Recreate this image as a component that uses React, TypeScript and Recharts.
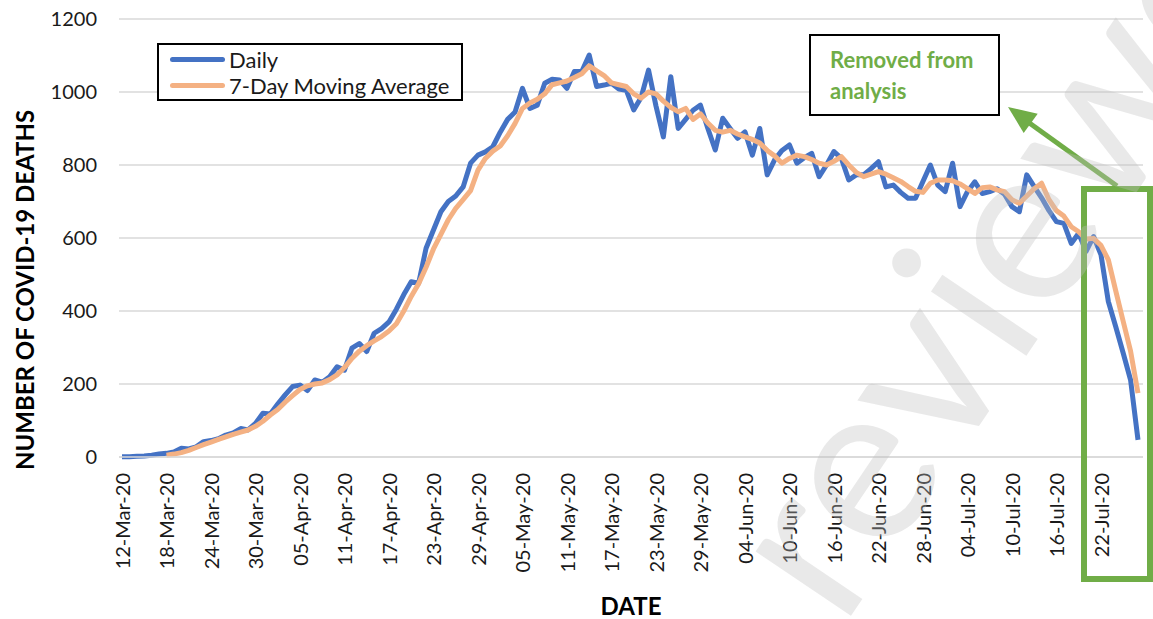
import { CartesianGrid, Legend, Line, LineChart, XAxis, YAxis } from 'recharts'

// month, first day, last day shown
const MONTHS: [string, number, number][] = [
  ['Mar', 12, 31],
  ['Apr', 1, 30],
  ['May', 1, 31],
  ['Jun', 1, 30],
  ['Jul', 1, 27],
]

const dates: string[] = []
MONTHS.forEach(([m, from, to]) => {
  for (let d = from; d <= to; d++) dates.push(`${String(d).padStart(2, '0')}-${m}-20`)
})

const daily = [
  1, 1, 2, 3, 5, 8, 10, 14, 24, 22,
  28, 42, 45, 50, 60, 66, 78, 74, 92, 120,
  118, 145, 170, 193, 197, 182, 211, 205, 220, 247,
  238, 298, 311, 289, 339, 352, 370, 405, 445, 480,
  476, 572, 622, 672, 700, 715, 740, 805, 827, 836,
  850, 890, 925, 945, 1010, 955, 964, 1024, 1035, 1033,
  1010, 1056, 1056, 1101, 1015, 1019, 1024, 1008, 1005, 951,
  985, 1060, 962, 877, 1042, 900, 925, 950, 964, 900,
  841, 928, 900, 873, 891, 827, 900, 773, 814, 840,
  855, 805, 820, 832, 768, 800, 837, 818, 759, 773,
  773, 790, 809, 740, 745, 725, 709, 709, 755, 800,
  745, 727, 805, 686, 727, 754, 722, 727, 735, 720,
  686, 672, 773, 741, 710, 675, 645, 640, 585, 613,
  563, 604, 555, 426, 357, 285, 211, 47,
]

const movingAvg = [
  null, null, null, null, null, null, 5, 8, 12, 18,
  26, 34, 41, 48, 55, 62, 68, 74, 84, 98,
  115, 130, 150, 168, 185, 195, 200, 203, 212, 225,
  245, 270, 290, 305, 318, 330, 345, 365, 400, 440,
  475, 520, 570, 610, 650, 681, 705, 730, 786, 818,
  838, 852, 880, 914, 955, 970, 980, 995, 1020, 1025,
  1030, 1040, 1050, 1072, 1058, 1045, 1025, 1020, 1015, 995,
  983, 1000, 995, 975, 958, 946, 955, 925, 940, 915,
  895, 890, 895, 885, 877, 870, 860, 840, 825, 805,
  818, 827, 823, 815, 805, 800, 810, 823, 800, 780,
  768, 775, 782, 775, 765, 755, 741, 728, 725, 750,
  759, 759, 757, 748, 735, 722, 738, 740, 732, 727,
  705, 695, 715, 735, 750, 705, 675, 660, 631, 617,
  597, 599, 580, 540, 455, 372, 290, 175,
]

const yTicks = [0, 200, 400, 600, 800, 1000, 1200]

const data = dates.map((date, i) => ({ date, daily: daily[i], avg: movingAvg[i] }))

const BLUE = '#4472C4'
const ORANGE = '#F4B183'
const GREEN = '#70AD47'
const FONT = 'Lato, "Liberation Sans", sans-serif'

function DateTick(props: any) {
  const { x, y, payload } = props
  return (
    <text
      x={x}
      y={y}
      transform={`rotate(-90 ${x} ${y})`}
      textAnchor='end'
      dominantBaseline='central'
      fontFamily={FONT}
      fontSize={20}
      fill='#1a1a1a'
    >
      {payload.value}
    </text>
  )
}

function LegendBox() {
  const rows = [
    { name: 'Daily', color: BLUE },
    { name: '7-Day Moving Average', color: ORANGE },
  ]
  return (
    <div
      style={{
        boxSizing: 'border-box',
        width: 306,
        height: 58,
        border: '2px solid #000',
        background: '#fff',
        paddingTop: 1,
        fontFamily: FONT,
        fontSize: 22,
        color: '#1a1a1a',
      }}
    >
      {rows.map((r) => (
        <div key={r.name} style={{ display: 'flex', alignItems: 'center', height: 26 }}>
          <div style={{ width: 55, height: 5, borderRadius: 3, background: r.color, marginLeft: 11, marginRight: 4 }} />
          <span>{r.name}</span>
        </div>
      ))}
    </div>
  )
}

export default function App() {
  return (
    <div style={{ position: 'absolute', left: 0, top: 0, width: 1153, height: 619, background: '#fff', overflow: 'hidden' }}>
      <LineChart width={1153} height={619} data={data} margin={{ top: 19, right: 10, bottom: 0, left: 59 }}>
        <CartesianGrid vertical={false} stroke='#D9D9D9' strokeWidth={1.5} />
        <XAxis
          dataKey='date'
          interval={5}
          height={162}
          tick={<DateTick />}
          tickLine={false}
          tickMargin={10}
          axisLine={{ stroke: '#D9D9D9', strokeWidth: 1.5 }}
          padding={{ left: 3, right: 5 }}
        />
        <YAxis
          domain={[0, 1200]}
          ticks={yTicks}
          width={60}
          tickLine={false}
          axisLine={false}
          tickMargin={16}
          tick={{ fontSize: 20, fontFamily: FONT, fill: '#1a1a1a' }}
        />
        <Legend
          verticalAlign='middle'
          align='center'
          content={<LegendBox />}
          wrapperStyle={{ left: 157, top: 43, width: 306, height: 58 }}
        />
        <Line
          type='linear'
          dataKey='daily'
          name='Daily'
          stroke={BLUE}
          strokeWidth={5}
          strokeLinejoin='round'
          dot={false}
          isAnimationActive={false}
        />
        <Line
          type='linear'
          dataKey='avg'
          name='7-Day Moving Average'
          stroke={ORANGE}
          strokeWidth={5}
          strokeLinejoin='round'
          dot={false}
          isAnimationActive={false}
        />
      </LineChart>
      <svg
        width={1153}
        height={619}
        style={{ position: 'absolute', left: 0, top: 0, pointerEvents: 'none' }}
      >
        <text
          transform='rotate(-90 24 290)'
          x={24}
          y={290}
          textAnchor='middle'
          dominantBaseline='central'
          fontFamily={FONT}
          fontWeight={700}
          fontSize={24}
          fill='#000'
        >
          NUMBER OF COVID-19 DEATHS
        </text>
        <text x={631} y={605} textAnchor='middle' dominantBaseline='central' fontFamily={FONT} fontWeight={700} fontSize={24} fill='#000'>
          DATE
        </text>
        <rect x={810} y={35} width={189} height={80} fill='#fff' stroke='#000' strokeWidth={2} />
        <text x={830} y={68} fontFamily={FONT} fontWeight={700} fontSize={22} fill={GREEN}>
          Removed from
        </text>
        <text x={830} y={99} fontFamily={FONT} fontWeight={700} fontSize={22} fill={GREEN}>
          analysis
        </text>
        <rect x={1084} y={189} width={66} height={390} fill='none' stroke={GREEN} strokeWidth={6} />
        <line x1={1117} y1={186} x2={1028} y2={122} stroke={GREEN} strokeWidth={5} />
        <polygon points='1008,107 1037.7,113.7 1023.7,133.1' fill={GREEN} />
        <text
          x={842}
          y={629}
          transform='rotate(-56 842 629)'
          fontFamily={FONT}
          fontSize={227}
          fill='#bfbfbf'
          fillOpacity={0.35}
        >
          reviewed
        </text>
      </svg>
    </div>
  )
}
